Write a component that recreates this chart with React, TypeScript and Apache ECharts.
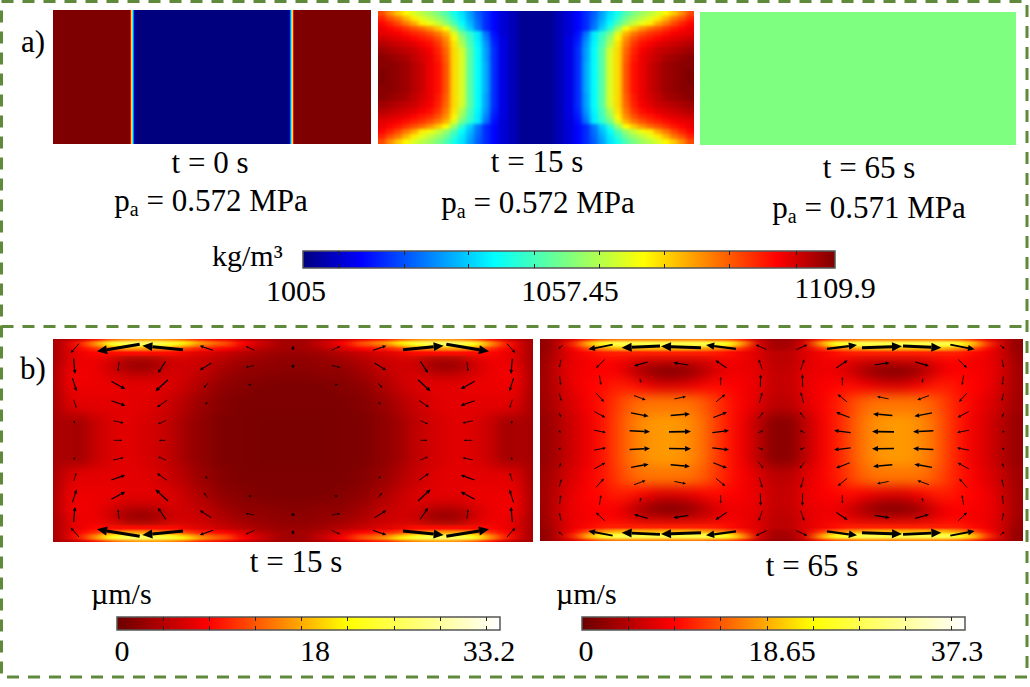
import React, { useEffect, useRef } from "react";
import * as echarts from "echarts";

const SERIF = "'Liberation Serif', 'Times New Roman', serif";

// ---------- colour scales ----------
const rainbowStops: [number, string][] = [[0, "#00007f"], [0.11, "#0000ff"], [0.36, "#00ffff"], [0.5, "#7fff7f"], [0.64, "#ffff00"], [0.89, "#ff0000"], [1, "#7f0000"]];
const heatStops: [number, string][] = [[0, "#6b0000"], [0.24, "#ff0000"], [0.6, "#ffff00"], [1, "#ffffff"]];

// ---------- density, kg/m3 ----------
const densityRange = [1005, 1109.9];
const densityTicks = [1012, 1025, 1037.5, 1050.6, 1063.4, 1076.3, 1089, 1102.2];
const densityLabels = ["1005", "1057.45", "1109.9"];

const a1Cols = [0, 77, 78, 79, 80, 81, 82, 159];
const a1Rows = [0, 67];
const a1Values = [[1109.9, 1098, 1075, 1050, 1030, 1012, 1005]];

const a2Cols = [0, 8, 16, 24, 32, 40, 48, 56, 64, 72, 80, 88, 96, 104, 112, 120, 130, 140, 158];
const a2Rows = [0, 5, 10, 15, 20, 25, 30, 36, 43, 51, 58, 66.5];
const a2Values = [
  [1091, 1084, 1078, 1073, 1068, 1064, 1061, 1057, 1052, 1045, 1040, 1033, 1026, 1021, 1017, 1013, 1010, 1007],
  [1095, 1090, 1086, 1080, 1074, 1069, 1065, 1061, 1056, 1048, 1041, 1034, 1027, 1021, 1017, 1013, 1010, 1007],
  [1098, 1095, 1091, 1086, 1081, 1074, 1070, 1066, 1060, 1052, 1043, 1036, 1028, 1021, 1017, 1013, 1010, 1007],
  [1100, 1098, 1096, 1093, 1090, 1087, 1083, 1078, 1072, 1060, 1048, 1038, 1029, 1021, 1017, 1013, 1010, 1007],
  [1101, 1100, 1099, 1097, 1095, 1093, 1090, 1086, 1080, 1069, 1056, 1048, 1041, 1028, 1018, 1013, 1010, 1007],
  [1103, 1102, 1101, 1100, 1098, 1096, 1094, 1090, 1084, 1073, 1060, 1050, 1041, 1030, 1019, 1014, 1010, 1007],
  [1105, 1104, 1103, 1102, 1101, 1099, 1097, 1093, 1086, 1075, 1063, 1051, 1042, 1032, 1020, 1014, 1010, 1007],
  [1107, 1106, 1105, 1104, 1103, 1101, 1099, 1095, 1088, 1076, 1067, 1053, 1043, 1033, 1021, 1014, 1010, 1007],
  [1109, 1108, 1107, 1106, 1104, 1102, 1100, 1096, 1089, 1076, 1068, 1053, 1043, 1033, 1021, 1014, 1010, 1007],
  [1109, 1109, 1108, 1107, 1105, 1103, 1100, 1097, 1090, 1076, 1068, 1053, 1043, 1034, 1021, 1014, 1010, 1007],
  [1110, 1109, 1108, 1107, 1105, 1103, 1100, 1097, 1090, 1076, 1068, 1053, 1043, 1034, 1021, 1014, 1010, 1007],
];
const a3Value = 1057.45;

// ---------- speed, um/s ----------
const speed15Range = [0, 33.2];
const speed15Ticks = [4, 8, 12, 16, 20, 24, 28, 32];
const speed15Labels = ["0", "18", "33.2"];
const speed65Range = [0, 37.3];
const speed65Ticks = [4.5, 9, 13.5, 18, 22.5, 27, 31.5, 36];
const speed65Labels = ["0", "18.65", "37.3"];

const speedRows = [0, 2, 5, 8, 12, 17, 23, 30, 40, 55, 75, 101.5];
const b1Cols = [0, 4, 10, 20, 35, 50, 65, 80, 95, 110, 125, 140, 160, 180, 200, 220, 240];
const b1Values = [
  [3, 3, 4, 5, 8, 12, 14, 15, 15, 14, 12, 9, 7, 5, 4, 3],
  [3, 4, 6, 9, 15, 22, 25, 26, 25, 23, 20, 15, 12, 8, 5, 3],
  [3, 4, 6, 9, 14, 20, 23, 24, 23, 21, 17, 13, 11, 7, 5, 3],
  [3, 4, 6, 8, 10, 13, 15, 15, 14, 13, 11, 9, 8, 6, 4, 3],
  [3, 4, 6, 7, 8, 8, 8, 8, 8, 8, 7, 6, 5, 4, 3, 2.5],
  [3, 4, 6, 7, 7, 6, 3.5, 3, 3.5, 5, 5.5, 5, 4, 3, 2.5, 2],
  [3, 4, 6.5, 7, 7, 5, 2, 1, 2, 5, 5.5, 5, 3.5, 2.5, 2, 2],
  [3, 5, 7, 7.5, 7, 6, 5, 4.5, 5, 6, 5.5, 4.5, 3, 2, 2, 1.5],
  [3, 4.5, 7, 7, 7, 7, 6.5, 6.5, 6.5, 6, 5, 3.5, 2, 1.5, 1, 1],
  [3, 4, 6, 6.5, 6.5, 6.5, 6.5, 6.5, 6, 5, 4, 2.5, 1.5, 1, 1, 1],
  [3, 3.5, 3.5, 3, 5, 6, 6.5, 6, 5.5, 4.5, 3, 2, 1, 1, 0.8, 0.8],
];
const b2Cols = [0, 6, 15, 28, 42, 56, 70, 84, 98, 112, 126, 140, 154, 168, 182, 196, 210, 225, 241.5];
const b2Values = [
  [2, 3, 5, 7, 11, 14, 15, 15, 15, 15, 15, 15, 15, 14, 13, 10, 5, 3],
  [2, 3, 6, 11, 19, 25, 27, 27, 27, 27, 27, 27, 27, 26, 24, 17, 7, 3.5],
  [2, 3, 6, 11, 18, 24, 26, 26, 26, 26, 26, 26, 26, 25, 23, 15, 7, 3.5],
  [2, 3, 6, 9, 13, 16, 18, 18, 18, 18, 18, 18, 17, 16, 14, 11, 7, 4],
  [2.5, 3.5, 6, 8, 9, 10, 10, 10, 10, 10, 10, 10, 10, 10, 9, 8, 7, 5],
  [2.5, 4, 6, 8, 8, 9, 9, 8, 7, 7, 7, 7, 7, 8, 8.5, 8, 7, 5],
  [2.5, 4, 6.5, 8, 8.5, 8.5, 8, 6, 4, 3.5, 3, 3.5, 5, 6.5, 8, 8, 7, 5],
  [3, 4, 6.5, 8, 8.5, 9, 8.5, 6, 3, 1.5, 1, 2, 4, 6.5, 8, 8, 7.5, 5.5],
  [3, 4, 6, 8, 9, 9.5, 10.5, 10, 8.5, 7, 7, 7.5, 8.5, 9.5, 9, 8.5, 7.5, 5.5],
  [3, 3.5, 5.5, 7, 8.5, 10, 12, 14, 15, 15, 15, 15, 14, 12, 10, 8.5, 7, 5],
  [2.5, 3, 4.5, 6.5, 8, 10, 12.5, 15, 16.5, 17, 17, 16.5, 15, 12.5, 10, 8, 5, 2],
];

// velocity arrows of the upper left quarter: tail x, tail y, head x, head y
const b1Arrows = [
  [238, 42, 213, 70], [420, 44, 292, 65], [550, 60, 428, 48], [640, 62, 600, 48], [765, 62, 738, 50], [882, 50, 882, 62],
  [222, 87, 226, 133], [358, 97, 355, 125], [498, 95, 475, 130], [635, 100, 600, 122], [763, 108, 738, 113], [882, 105, 882, 115],
  [218, 145, 231, 185], [335, 155, 377, 178], [505, 150, 467, 185], [625, 160, 612, 175], [755, 165, 745, 165],
  [222, 210, 230, 235], [335, 213, 377, 228], [502, 212, 472, 233], [622, 218, 617, 225],
  [223, 275, 225, 282], [340, 273, 372, 280], [498, 273, 475, 283],
];
const b1MidArrows = [[342, 332, 368, 332], [497, 332, 477, 332]];
const b2Arrows = [
  [98, 45, 85, 55], [248, 43, 175, 57], [390, 47, 275, 52], [513, 52, 393, 48], [618, 56, 528, 44], [710, 58, 677, 43],
  [93, 88, 88, 112], [224, 88, 198, 113], [353, 95, 312, 107], [475, 104, 430, 97], [590, 113, 556, 90], [697, 118, 686, 87],
  [89, 138, 92, 165], [208, 135, 213, 165], [330, 145, 333, 158], [572, 165, 572, 140], [691, 170, 692, 132],
  [88, 190, 94, 213], [198, 188, 222, 215], [312, 196, 347, 209], [433, 206, 468, 199], [558, 215, 586, 192], [688, 218, 697, 186],
  [88, 248, 93, 262], [193, 244, 226, 262], [303, 248, 356, 258], [422, 256, 480, 251], [550, 262, 591, 246], [685, 265, 700, 245],
  [90, 305, 93, 308], [192, 300, 228, 307], [299, 302, 360, 305], [417, 305, 483, 304], [547, 307, 597, 301], [684, 308, 700, 301],
];

// ---------- helpers ----------
const mirrorEdges = (e: number[]) => {
  const last = e[e.length - 1];
  return [...e, ...e.slice(0, -1).reverse().map((v) => 2 * last - v)];
};
const mirrorValues = (rows: number[][]) => {
  const lr = rows.map((r) => [...r, ...[...r].reverse()]);
  return [...lr, ...[...lr].reverse()];
};
const colorAt = (v: number, range: number[], stops: [number, string][]) => {
  const t = Math.max(0, Math.min(1, (v - range[0]) / (range[1] - range[0])));
  for (let i = 1; i < stops.length; i++) {
    if (t <= stops[i][0]) {
      const f = (t - stops[i - 1][0]) / (stops[i][0] - stops[i - 1][0]);
      return echarts.color.lerp(f, [stops[i - 1][1], stops[i][1]]) as string;
    }
  }
  return stops[stops.length - 1][1];
};
const cellData = (cols: number[], rows: number[], vals: number[][]) => {
  const out: number[][] = [];
  vals.forEach((r, j) => r.forEach((v, i) => out.push([cols[i], cols[i + 1], rows[j], rows[j + 1], v])));
  return out;
};
const cellSeries = (data: number[][], range: number[], stops: [number, string][], gridIndex: number, bleed: number, W: number, H: number) => ({
  type: "custom",
  xAxisIndex: gridIndex,
  yAxisIndex: gridIndex,
  silent: true,
  data,
  encode: { x: [0, 1], y: [2, 3] },
  renderItem: (_: any, api: any) => {
    const x0v = api.value(0), x1v = api.value(1), y0v = api.value(2), y1v = api.value(3);
    const a = api.coord([x0v, y0v]);
    const b = api.coord([x1v, y1v]);
    const l = x0v <= 0 ? a[0] - bleed : a[0];
    const r = x1v >= W ? b[0] + bleed : b[0] + (bleed ? 1 : 0);
    const t = y0v <= 0 ? a[1] - bleed : a[1];
    const d = y1v >= H ? b[1] + bleed : b[1] + (bleed ? 1 : 0);
    return {
      type: "rect",
      shape: { x: l, y: t, width: r - l, height: d - t },
      style: { fill: colorAt(api.value(4), range, stops) },
    };
  },
});

type FieldProps = { x: number; y: number; w: number; h: number; cols: number[]; rows: number[]; values: number[][]; range: number[]; stops: [number, string][]; filter: string; mask?: string };
function Field(props: FieldProps) {
  const ref = useRef<HTMLDivElement>(null);
  const M = 30;
  useEffect(() => {
    const chart = echarts.init(ref.current!, undefined, { renderer: "svg" });
    const cols = mirrorEdges(props.cols);
    const rows = mirrorEdges(props.rows);
    const W = cols[cols.length - 1];
    const H = rows[rows.length - 1];
    chart.setOption({
      animation: false,
      grid: { left: M, top: M, width: props.w, height: props.h },
      xAxis: { type: "value", min: 0, max: W, show: false },
      yAxis: { type: "value", min: 0, max: H, inverse: true, show: false },
      series: [cellSeries(cellData(cols, rows, mirrorValues(props.values)), props.range, props.stops, 0, M, W, H)],
    });
    return () => chart.dispose();
  }, []);
  const maskStyle: any = props.mask ? { WebkitMaskImage: props.mask, maskImage: props.mask } : {};
  return (
    <div style={{ position: "absolute", left: props.x, top: props.y, width: props.w, height: props.h, overflow: "hidden", ...maskStyle }}>
      <div ref={ref} style={{ position: "absolute", left: -M, top: -M, width: props.w + 2 * M, height: props.h + 2 * M, filter: `url(#${props.filter})` }} />
    </div>
  );
}

const hiddenAxes = (gridIndex: number, xr: number[], yr: number[]) => ({
  x: { type: "value", gridIndex, min: xr[0], max: xr[1], show: false },
  y: { type: "value", gridIndex, min: yr[0], max: yr[1], inverse: true, show: false },
});

const arrowSeries = (data: number[][], gridIndex: number) => ({
  type: "custom",
  xAxisIndex: gridIndex,
  yAxisIndex: gridIndex,
  silent: true,
  data,
  encode: { x: [0, 2], y: [1, 3] },
  renderItem: (_: any, api: any) => {
    const a = api.coord([api.value(0), api.value(1)]);
    const b = api.coord([api.value(2), api.value(3)]);
    const dx = b[0] - a[0], dy = b[1] - a[1];
    const len = Math.hypot(dx, dy) || 1;
    const ux = dx / len, uy = dy / len;
    const lw = Math.max(0.8, Math.min(3, len * 0.075));
    const hl = Math.max(2.5, Math.min(10, len * 0.27));
    const hw = hl * 0.45;
    const bx = b[0] - ux * hl, by = b[1] - uy * hl;
    return {
      type: "group",
      children: [
        { type: "line", shape: { x1: a[0], y1: a[1], x2: bx, y2: by }, style: { stroke: "#000", lineWidth: lw } },
        { type: "polygon", shape: { points: [[b[0], b[1]], [bx - uy * hw, by + ux * hw], [bx + uy * hw, by - ux * hw]] }, style: { fill: "#000" } },
      ],
    };
  },
});

const barSeries = (range: number[], stops: [number, string][], xAxisIndex: number, yAxisIndex: number) => ({
  type: "custom",
  xAxisIndex,
  yAxisIndex,
  silent: true,
  z: 1,
  data: [[range[0], 0, range[1], 1]],
  encode: { x: [0, 2], y: [1, 3] },
  renderItem: (_: any, api: any) => {
    const a = api.coord([api.value(0), api.value(1)]);
    const b = api.coord([api.value(2), api.value(3)]);
    return {
      type: "rect",
      shape: { x: a[0], y: b[1], width: b[0] - a[0], height: a[1] - b[1] },
      style: {
        fill: new echarts.graphic.LinearGradient(0, 0, 1, 0, stops.map(([offset, color]) => ({ offset, color }))),
        stroke: "#555",
        lineWidth: 1.5,
      },
    };
  },
});

const BIG = 31;
const LABEL = 30;
const text = (t: string, x: number, y: number, size = BIG, align = "center", rich?: any) => ({
  type: "text",
  x,
  y,
  silent: true,
  style: { text: t, fontFamily: SERIF, fontSize: size, fill: "#000", align, verticalAlign: "middle", rich },
});
const subRich = {
  sub: { fontFamily: SERIF, fontSize: 20, fill: "#000", verticalAlign: "bottom", padding: [18, 0, 0, 0] },
  n: { fontFamily: SERIF, fontSize: BIG, fill: "#000" },
};
const pressure = (v: string, x: number, y: number) => text(`{n|p}{sub|a}{n| = ${v} MPa}`, x, y, BIG, "center", subRich);

const GREEN = "#5f8a3c";
const DASH = [12, 9];
const outerFrame = {
  type: "polyline",
  silent: true,
  shape: { points: [[1.5, 1.5], [1027, 1.5], [1027, 677], [1.5, 677], [1.5, 1.5]] },
  style: { fill: "none", stroke: GREEN, lineWidth: 3, lineDash: DASH },
};
const midLine = {
  type: "line",
  silent: true,
  shape: { x1: 1.5, y1: 326.5, x2: 1027, y2: 326.5 },
  style: { stroke: GREEN, lineWidth: 3, lineDash: DASH },
};

const edgeMask = "linear-gradient(to bottom, #000 0px, #000 13px, transparent 24px, transparent calc(100% - 24px), #000 calc(100% - 13px), #000 100%)";

export default function App() {
  const ref = useRef<HTMLDivElement>(null);
  useEffect(() => {
    const chart = echarts.init(ref.current!, undefined, { renderer: "svg" });
    const a1 = hiddenAxes(0, [0, 318], [0, 134]);
    const a3 = hiddenAxes(1, [0, 1], [0, 1]);
    const b1 = hiddenAxes(2, [160, 1600], [28, 637]);
    const b2 = hiddenAxes(3, [30, 1479], [26, 633]);
    const barAxes = (gridIndex: number, range: number[], ticks: number[]) => {
      const tick = { show: true, inside: true, length: 4, customValues: ticks, lineStyle: { color: "#222", width: 1 } };
      const base = { type: "value", gridIndex, min: range[0], max: range[1], z: 10, axisLine: { show: false }, axisLabel: { show: false }, splitLine: { show: false }, axisTick: tick };
      return [{ ...base, position: "bottom" }, { ...base, position: "top" }];
    };
    const yBar = (gridIndex: number) => ({ type: "value", gridIndex, min: 0, max: 1, show: false });

    const expand = (list: number[][], mx: number, my: number, mid: number[][]) => {
      const lower = list.map(([a, b, c, d]) => [a, my - b, c, my - d]);
      const left = [...list, ...lower, ...mid];
      return [...left, ...left.map(([a, b, c, d]) => [mx - a, b, mx - c, d])];
    };

    chart.setOption({
      animation: false,
      backgroundColor: "transparent",
      grid: [
        { left: 53, top: 10, width: 318, height: 134 },
        { left: 700, top: 12, width: 316, height: 133 },
        { left: 53, top: 339, width: 480, height: 203 },
        { left: 540, top: 339, width: 483, height: 202 },
        { left: 303, top: 251, width: 532, height: 17 },
        { left: 117, top: 617, width: 383, height: 13 },
        { left: 582, top: 617, width: 383, height: 13 },
      ],
      xAxis: [a1.x, a3.x, b1.x, b2.x, ...barAxes(4, densityRange, densityTicks), ...barAxes(5, speed15Range, speed15Ticks), ...barAxes(6, speed65Range, speed65Ticks)],
      yAxis: [a1.y, a3.y, b1.y, b2.y, yBar(4), yBar(5), yBar(6)],
      series: [
        cellSeries(cellData(mirrorEdges(a1Cols), mirrorEdges(a1Rows), mirrorValues(a1Values)), densityRange, rainbowStops, 0, 0, 318, 134),
        cellSeries([[0, 1, 0, 1, a3Value]], densityRange, rainbowStops, 1, 0, 1, 1),
        arrowSeries(expand(b1Arrows, 1760, 664, b1MidArrows), 2),
        arrowSeries(expand(b2Arrows, 1509, 660, []), 3),
        barSeries(densityRange, rainbowStops, 4, 4),
        barSeries(speed15Range, heatStops, 6, 5),
        barSeries(speed65Range, heatStops, 8, 6),
      ],
      graphic: [
        outerFrame,
        midLine,
        text("a)", 21, 41, BIG, "left"),
        text("b)", 20, 368, BIG, "left"),
        text("t = 0 s", 210, 162),
        pressure("0.572", 211, 200),
        text("t = 15 s", 537, 161),
        pressure("0.572", 538, 202),
        text("t = 65 s", 869, 167),
        pressure("0.571", 869, 207),
        text("kg/m³", 212, 255, LABEL, "left"),
        text(densityLabels[0], 296, 290, LABEL),
        text(densityLabels[1], 570, 290, LABEL),
        text(densityLabels[2], 835, 287, LABEL),
        text("t = 15 s", 296, 561),
        text("t = 65 s", 812, 565),
        text("µm/s", 91, 593, LABEL, "left"),
        text("µm/s", 556, 593, LABEL, "left"),
        text(speed15Labels[0], 122, 650, LABEL),
        text(speed15Labels[1], 315, 650, LABEL),
        text(speed15Labels[2], 489, 650, LABEL),
        text(speed65Labels[0], 586, 650, LABEL),
        text(speed65Labels[1], 782, 650, LABEL),
        text(speed65Labels[2], 957, 650, LABEL),
      ],
    });
    return () => chart.dispose();
  }, []);
  const blurDefs: [string, string][] = [["fieldA", "2 1.5"], ["fieldBase", "7 6"], ["fieldEdge", "7 1.2"]];
  const b1Props = { x: 53, y: 339, w: 480, h: 203, cols: b1Cols, rows: speedRows, values: b1Values, range: speed15Range, stops: heatStops };
  const b2Props = { x: 540, y: 339, w: 483, h: 202, cols: b2Cols, rows: speedRows, values: b2Values, range: speed65Range, stops: heatStops };
  return (
    <div style={{ position: "absolute", left: 0, top: 0, width: 1030, height: 687, background: "#fff", overflow: "hidden" }}>
      <svg width="0" height="0" style={{ position: "absolute" }}>
        {blurDefs.map(([id, sd]) => (
          <filter key={id} id={id} x="0" y="0" width="100%" height="100%" colorInterpolationFilters="sRGB">
            <feGaussianBlur stdDeviation={sd} />
          </filter>
        ))}
      </svg>
      <Field x={378} y={11} w={316} h={133} cols={a2Cols} rows={a2Rows} values={a2Values} range={densityRange} stops={rainbowStops} filter="fieldA" />
      <Field {...b1Props} filter="fieldBase" />
      <Field {...b1Props} filter="fieldEdge" mask={edgeMask} />
      <Field {...b2Props} filter="fieldBase" />
      <Field {...b2Props} filter="fieldEdge" mask={edgeMask} />
      <div ref={ref} style={{ position: "absolute", left: 0, top: 0, width: 1030, height: 687, zIndex: 2 }} />
    </div>
  );
}
